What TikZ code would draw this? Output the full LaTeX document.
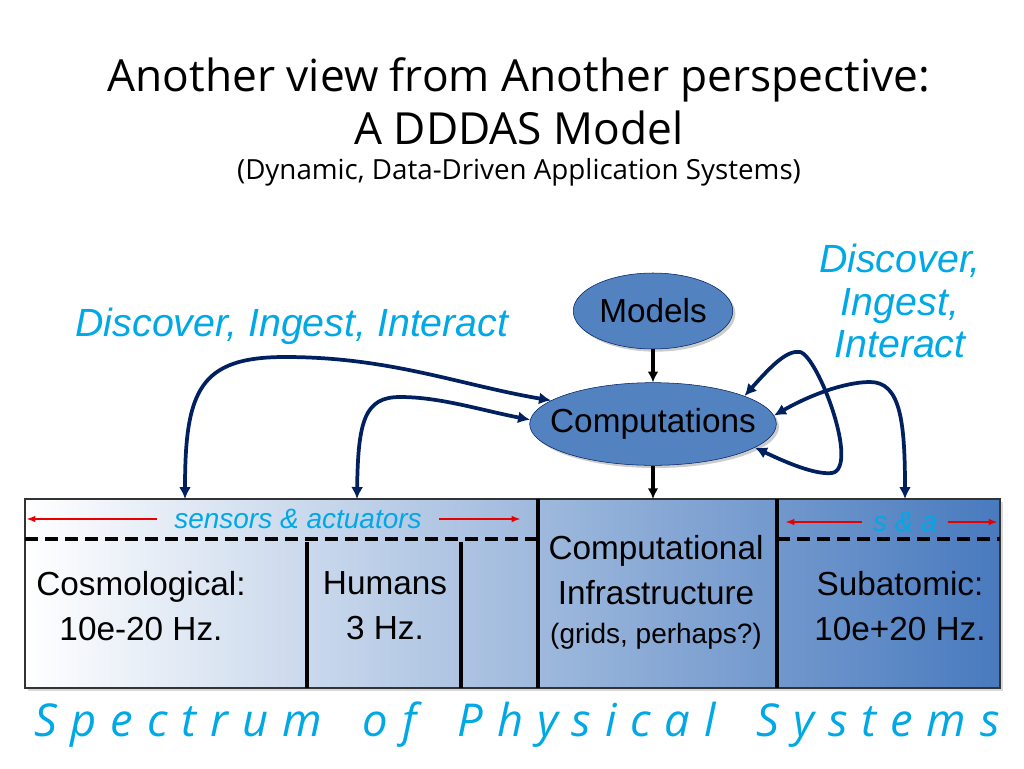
\documentclass[tikz,border=0pt]{standalone}
\usepackage{fontspec}
\setmainfont{Liberation Sans}
\newfontfamily\titlefont{Open Sans}
\usetikzlibrary{arrows.meta,positioning,shapes.geometric,shadows}
\definecolor{skyText}{RGB}{0,168,230}
\definecolor{navyArrow}{RGB}{0,32,96}
\definecolor{ovalFill}{RGB}{82,130,192}
\definecolor{barBlue}{RGB}{72,122,190}
\definecolor{redArrow}{RGB}{232,0,0}

\begin{document}
\begin{tikzpicture}[
  x=0.75pt, y=-0.75pt,
  oval/.style={ellipse, draw=navyArrow, fill=ovalFill, inner ysep=0pt, font=\fontsize{25}{28}\selectfont,
    drop shadow={shadow xshift=2pt, shadow yshift=-2pt, fill=black!20, opacity=1}},
  feed/.style={{Latex[length=9pt,width=9pt]}-{Latex[length=9pt,width=9pt]}, navyArrow, line width=2.8pt},
  pipe/.style={-{Latex[length=8pt,width=8pt]}, line width=2.6pt},
  reach/.style={-{Latex[length=7pt,width=5pt]}, redArrow, line width=1.5pt},
  cue/.style={skyText, font=\fontsize{29.5}{32}\selectfont\itshape, align=center},
  bandtext/.style={font=\fontsize{25}{34}\selectfont, align=center},
  wall/.style={line width=2.4pt},
  divide/.style={line width=2.4pt, dash pattern=on 10pt off 5pt}
]
\useasboundingbox (0,0) rectangle (1024,768);

% heading
\node[font=\titlefont\fontsize{33.2}{40}\selectfont, align=center] (title) at (519,101) {Another view from Another perspective:\\A DDDAS Model};
\node[font=\titlefont\fontsize{20.8}{26}\selectfont] (subtitle) at (519,172) {(Dynamic, Data-Driven Application Systems)};

% the spectrum bar
\fill[black!15] (28,502) rectangle (1003,691);
\shadedraw[left color=white, right color=barBlue, draw=black!80, line width=1pt] (25,499) rectangle (1000,688);
\draw[wall] (538,499) -- (538,688);
\draw[wall] (777,499) -- (777,688);
\draw[wall] (307,542) -- (307,688);
\draw[wall] (461,542) -- (461,688);
\draw[divide] (25,539) -- (538,539);
\draw[divide] (777,539) -- (1000,539);

\coordinate (cosmo) at (185,499);
\coordinate (human) at (357,499);
\coordinate (infra) at (653,499);
\coordinate (sub) at (905,499);

\node[bandtext] (cosmo-t) at (141,606) {Cosmological:\\10e-20 Hz.};
\node[bandtext] (human-t) at (385,606) {Humans\\3 Hz.};
\node[bandtext] (infra-t) at (656,592) {Computational\\Infrastructure\\[-5pt]{\fontsize{21}{24}\selectfont (grids, perhaps?)}};
\node[bandtext] (sub-t) at (900,606) {Subatomic:\\10e+20 Hz.};

% sensors and actuators
\node[skyText, font=\fontsize{21}{24}\selectfont\itshape, inner xsep=13pt, inner ysep=0pt] (sa) at (298,519) {sensors \& actuators};
\coordinate (sa-l) at (26,519);
\coordinate (sa-r) at (521,519);
\draw[reach] (sa.west) -- (sa-l);
\draw[reach] (sa.east) -- (sa-r);
\node[skyText, font=\fontsize{21}{24}\selectfont\itshape, inner xsep=8pt, inner ysep=0pt] (sa2) at (905,522) {s \& a};
\coordinate (sa2-l) at (785,522);
\coordinate (sa2-r) at (998,522);
\draw[reach] (sa2.west) -- (sa2-l);
\draw[reach] (sa2.east) -- (sa2-r);

% models and computations
\node[oval, inner xsep=2pt, minimum width=116pt, minimum height=57pt] (models) at (653,311) {Models};
\node[oval, inner xsep=-12pt, minimum width=185pt, minimum height=62pt] (comp) at (653,424) {Computations};
\draw[pipe] (models) -- (comp);
\draw[pipe] (comp) -- (infra);

% feedback loops
\draw[feed] (cosmo) .. controls (185,390) and (200,357) .. (285,357) .. controls (390,357) and (460,385) .. (comp.167);
\draw[feed] (human) .. controls (358,420) and (365,397) .. (400,397) .. controls (440,397) and (480,410) .. (comp.178);
\draw[feed] (comp.17) .. controls (772,365) and (787,350) .. (800,352) .. controls (818,356) and (860,468) .. (832,473) .. controls (815,475) and (785,462) .. (comp.-13);
\draw[feed] (comp.4) .. controls (810,395) and (845,382) .. (870,382) .. controls (900,382) and (905,420) .. (sub);

\node[cue] (dii-l) at (292,326) {Discover, Ingest, Interact};
\node[cue] (dii-r) at (900,301) {Discover,\\Ingest,\\Interact};

\node[skyText, font=\titlefont\itshape\fontsize{34}{38}\selectfont, inner sep=0pt] (spectrum) at (517,725)
  {\hbox to 724pt{S\hfill p\hfill e\hfill c\hfill t\hfill r\hfill u\hfill m\hfill\hfill\hfill o\hfill f\hfill\hfill\hfill P\hfill h\hfill y\hfill s\hfill i\hfill c\hfill a\hfill l\hfill\hfill\hfill S\hfill y\hfill s\hfill t\hfill e\hfill m\hfill s}};
\end{tikzpicture}
\end{document}
